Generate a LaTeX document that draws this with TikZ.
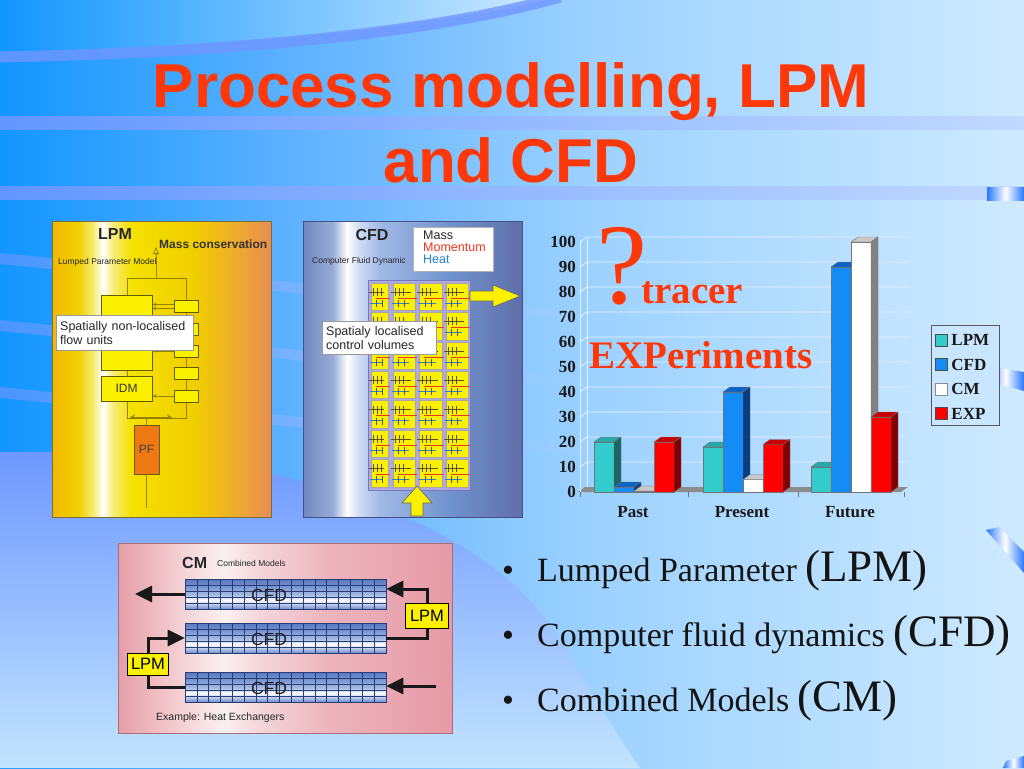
\documentclass[tikz,border=0pt]{standalone}
\usepackage{fontspec}
\setmainfont{Liberation Serif}
\setsansfont{Liberation Sans}
\usetikzlibrary{arrows.meta,calc}

\definecolor{bgL}{RGB}{18,150,255}
\definecolor{bgA}{RGB}{95,178,255}
\definecolor{bgB}{RGB}{158,210,255}
\definecolor{bgR}{RGB}{206,234,255}
\definecolor{stripe}{RGB}{112,150,255}
\definecolor{stripeR}{RGB}{190,215,255}
\definecolor{lowT}{RGB}{110,152,255}
\definecolor{lowB}{RGB}{194,228,255}
\definecolor{swR}{RGB}{205,233,255}
\definecolor{ttl}{RGB}{255,56,10}
% LPM panel
\definecolor{lp1}{RGB}{242,184,0}
\definecolor{lp2}{RGB}{240,208,0}
\definecolor{lp3}{RGB}{248,236,120}
\definecolor{lp4}{RGB}{245,225,0}
\definecolor{lp5}{RGB}{240,205,0}
\definecolor{lp6}{RGB}{238,172,45}
\definecolor{lp7}{RGB}{232,140,85}
\definecolor{lpbord}{RGB}{120,110,60}
\definecolor{lolive}{RGB}{150,130,0}
\definecolor{ldark}{RGB}{100,90,0}
\definecolor{lyel}{RGB}{250,240,0}
\definecolor{pforange}{RGB}{240,120,20}
% CFD panel
\definecolor{cf1}{RGB}{112,136,190}
\definecolor{cf2}{RGB}{152,172,216}
\definecolor{cf3}{RGB}{205,218,242}
\definecolor{cf4}{RGB}{160,185,230}
\definecolor{cf5}{RGB}{112,146,205}
\definecolor{cf6}{RGB}{95,110,170}
\definecolor{cfbord}{RGB}{70,80,130}
\definecolor{gridlav}{RGB}{176,168,224}
\definecolor{gridlavd}{RGB}{120,120,190}
\definecolor{momred}{RGB}{235,55,30}
\definecolor{heatblue}{RGB}{40,130,210}
\definecolor{tickd}{RGB}{90,80,40}
% CM panel
\definecolor{cm1}{RGB}{228,158,168}
\definecolor{cm2}{RGB}{238,184,190}
\definecolor{cm3}{RGB}{247,224,226}
\definecolor{cm4}{RGB}{250,240,240}
\definecolor{cm5}{RGB}{244,214,218}
\definecolor{cm6}{RGB}{236,180,188}
\definecolor{cm7}{RGB}{230,154,166}
\definecolor{cmbord}{RGB}{170,110,120}
\definecolor{tb1}{RGB}{110,140,200}
\definecolor{tb2}{RGB}{190,205,235}
\definecolor{tb3}{RGB}{170,190,228}
\definecolor{tb4}{RGB}{120,150,210}
\definecolor{tb5}{RGB}{88,118,188}
\definecolor{tubeline}{RGB}{40,60,120}
% chart
\definecolor{lpmF}{RGB}{51,204,204}
\definecolor{lpmT}{RGB}{40,168,168}
\definecolor{lpmS}{RGB}{30,100,100}
\definecolor{cfdF}{RGB}{20,140,245}
\definecolor{cfdT}{RGB}{10,100,200}
\definecolor{cfdS}{RGB}{10,60,130}
\definecolor{cmT}{RGB}{200,200,200}
\definecolor{cmS}{RGB}{130,130,130}
\definecolor{expF}{RGB}{255,0,0}
\definecolor{expT}{RGB}{200,0,0}
\definecolor{expS}{RGB}{130,0,0}
\definecolor{gridw}{RGB}{228,242,255}
\definecolor{legbg}{RGB}{200,230,255}
\definecolor{decoB}{RGB}{40,120,255}

\pgfdeclarehorizontalshading{bgshade}{100bp}{color(0bp)=(bgL); color(25bp)=(bgL); color(39.6bp)=(bgA); color(54.3bp)=(bgB); color(75bp)=(bgR); color(100bp)=(bgR)}
\pgfdeclarehorizontalshading{lpmshade}{100bp}{color(0bp)=(lp1); color(25bp)=(lp1); color(31bp)=(lp2); color(34.5bp)=(lp3); color(36.6bp)=(white); color(39bp)=(lp3); color(43bp)=(lp4); color(58bp)=(lp5); color(67bp)=(lp6); color(75bp)=(lp7); color(100bp)=(lp7)}
\pgfdeclarehorizontalshading{cfdshade}{100bp}{color(0bp)=(cf1); color(25bp)=(cf1); color(31.8bp)=(cf2); color(35bp)=(white); color(38bp)=(cf3); color(42.6bp)=(cf4); color(58.6bp)=(cf5); color(75bp)=(cf6); color(100bp)=(cf6)}
\pgfdeclarehorizontalshading{cmshade}{100bp}{color(0bp)=(cm1); color(25bp)=(cm1); color(29.8bp)=(cm2); color(37.3bp)=(cm3); color(41bp)=(cm4); color(46.2bp)=(cm5); color(56.7bp)=(cm6); color(75bp)=(cm7); color(100bp)=(cm7)}
\pgfdeclareverticalshading{tubeshade}{100bp}{color(0bp)=(tb1); color(25bp)=(tb1); color(33bp)=(tb2); color(40bp)=(white); color(48bp)=(tb3); color(62bp)=(tb4); color(75bp)=(tb5); color(100bp)=(tb5)}
\pgfdeclarehorizontalshading{decoshade}{100bp}{color(0bp)=(decoB); color(25bp)=(decoB); color(50bp)=(white); color(75bp)=(decoB); color(100bp)=(decoB)}

\newcommand{\chartbar}[5]{%
  \pgfmathsetmacro{\bt}{492-2.5*#2}%
  \path[fill=#3, draw=black!55, line width=0.4pt] (#1,492) rectangle (#1+20,\bt);
  \path[fill=#4, draw=black!55, line width=0.4pt] (#1,\bt) -- (#1+7,\bt-5) -- (#1+27,\bt-5) -- (#1+20,\bt) -- cycle;
  \path[fill=#5, draw=black!55, line width=0.4pt] (#1+20,492) -- (#1+20,\bt) -- (#1+27,\bt-5) -- (#1+27,487) -- cycle;
}

\tikzset{
  ptitle/.style={font=\sffamily\bfseries\fontsize{16}{18}\selectfont, text=black!85, inner sep=0pt},
  psub/.style={font=\sffamily\fontsize{8.5}{10}\selectfont, text=black!85, inner sep=0pt},
  mcons/.style={font=\sffamily\bfseries\fontsize{12}{14}\selectfont, text=black!80, inner sep=0pt},
  lline/.style={draw=lolive, line width=0.8pt},
  larr/.style={draw=lolive, line width=0.8pt, -{Stealth[length=4pt,width=3.5pt]}},
  lbox/.style={draw=ldark, fill=lyel, line width=0.8pt, inner sep=0pt, font=\sffamily\fontsize{12}{14}\selectfont, text=black!80},
  pfbox/.style={draw=ldark, fill=pforange, line width=0.8pt, inner sep=0pt, minimum width=25pt, minimum height=49pt, font=\sffamily\fontsize{12}{14}\selectfont, text=black!75},
  wlabel/.style={draw=black!40, fill=white, inner xsep=4pt, inner ysep=0pt, align=left, font=\sffamily\fontsize{12.5}{14}\selectfont, text=black!85},
  cell/.style={fill=lyel, draw=black!35, line width=0.4pt},
  tkd/.style={draw=tickd, line width=0.6pt},
  tkr/.style={draw=momred, line width=0.6pt},
  tkb/.style={draw=heatblue, line width=0.6pt},
  blockarrow/.style={fill=lyel, draw=black!60, line width=0.6pt},
  tube/.style={shade, shading=tubeshade, draw=tubeline, line width=0.6pt, minimum width=201pt, minimum height=30pt, inner sep=0pt},
  tubegrid/.style={draw=tubeline, line width=0.45pt},
  tubetext/.style={font=\sffamily\fontsize{17.5}{18}\selectfont, text=black!88, inner sep=0pt},
  lpmy/.style={draw=black, fill=lyel, line width=1pt, inner sep=0pt, font=\sffamily\fontsize{16.5}{18}\selectfont},
  cmline/.style={draw=black!90, line width=3pt},
  cmarrow/.style={draw=black!90, line width=3pt, -{Triangle[length=17pt,width=16pt]}},
  gridln/.style={draw=gridw, line width=0.8pt},
  ylab/.style={font=\bfseries\fontsize{17}{17}\selectfont, inner sep=0pt, text=black!90},
  catlab/.style={font=\bfseries\fontsize{17}{17}\selectfont, inner sep=0pt, text=black!90},
  redtext/.style={text=ttl, inner sep=0pt},
  legsq/.style={draw=black!70, line width=0.5pt, minimum width=12pt, minimum height=12pt, inner sep=0pt},
  legtx/.style={font=\bfseries\fontsize{17}{17}\selectfont, inner sep=0pt, text=black!90},
  bullet/.style={font=\fontsize{34}{40}\selectfont, inner sep=0pt, text=black!92},
  ttlstyle/.style={font=\sffamily\bfseries\fontsize{62}{70}\selectfont, text=ttl, inner sep=0pt},
  deco/.style={shading=decoshade}
}

\begin{document}
\begin{tikzpicture}[x=1pt,y=-1pt]
\useasboundingbox (0,0) rectangle (1024,768);
\clip (0,0) rectangle (1024,768);

% ---------- background ----------
\shade[shading=bgshade] (0,0) rectangle (1024,768);
\shade[left color=bgL, right color=swR] (0,0) -- (545,0) .. controls (420,30) and (220,48) .. (0,52) -- cycle;
\draw[stripe, line width=11pt, opacity=0.8] (0,57) .. controls (220,53) and (430,34) .. (560,-3);
\foreach \sy in {116,186} {
  \shade[left color=stripe, right color=stripeR, opacity=0.85] (0,\sy) rectangle (1024,\sy+13);
}
\foreach \sy in {253,320,387} {
  \shade[left color=stripe, right color=bgB, opacity=0.6] (0,\sy) -- (600,\sy+60) -- (600,\sy+70) -- (0,\sy+11) -- cycle;
}
\shade[top color=lowT, bottom color=lowB] (0,452) -- (150,452) .. controls (350,478) and (500,540) .. (560,640) .. controls (590,690) and (620,740) .. (640,768) -- (0,768) -- cycle;

% right decorations
\shade[deco] (987,187) rectangle (1024,200);
\shade[deco] (987,366) -- (1024,372) -- (1024,391) -- (987,381) -- cycle;
\shade[deco] (986,530) -- (999,527) -- (1024,552) -- (1024,573) -- cycle;
\shade[deco] (1006,761) -- (1024,756) -- (1024,768) -- (1003,768) -- cycle;

% ---------- title ----------
\node[ttlstyle, anchor=base] (title1) at (511,107) {Process modelling, LPM};
\node[ttlstyle, anchor=base] (title2) at (511,182) {and CFD};

% ---------- LPM panel ----------
\shade[shading=lpmshade, draw=lpbord, line width=0.6pt] (52,221) rectangle (271,517);
\node[ptitle] (lpmt) at (115,234) {LPM};
\node[psub, anchor=west] (lpms) at (58,262) {Lumped Parameter Model};
\node[mcons, anchor=west] (mcons) at (159,244) {Mass conservation};
\draw[lline] (127,278) rectangle (186,418);
\coordinate (upA) at (156,278);
\coordinate (upB) at (156,247);
\draw[lline, -{Triangle[open, length=7pt, width=6pt]}] (upA) -- (upB);
\node[lbox, minimum width=51pt, minimum height=75pt] (bb) at (126.5,332.5) {};
\node[lbox, minimum width=51pt, minimum height=25pt] (idm) at (126.5,388.5) {IDM};
\foreach \i/\yy in {1/306.5,2/329,3/351,4/373.5,5/396}
  \node[lbox, minimum width=24pt, minimum height=12pt] (s\i) at (186,\yy) {};
\draw[larr] ($(s1.west)+(0,-2)$) -- ($(s1.west -| bb.east)+(0,-2)$);
\draw[larr] ($(s1.west)+(0,2)$) -- ($(s1.west -| bb.east)+(0,2)$);
\draw[larr] (s3.west) -- (s3.west -| bb.east);
\draw[larr] (s5.west) -- (s5.west -| idm.east);
\node[pfbox] (pf) at (146.5,449.5) {PF};
\coordinate (pfbot) at (146.5,508);
\coordinate (pfL) at (130,417);
\coordinate (pfR) at (172,417);
\draw[lline] (pf.north) -- ++(0,-7);
\draw[lline] (pf.south) -- (pfbot);
\draw[lline, {Stealth[length=5pt,width=5pt]}-{Stealth[length=5pt,width=5pt]}] (pfL) -- (pfR);
\node[wlabel, anchor=north west, text width=129pt, minimum height=35pt] (lab1) at (56,315) {Spatially non-localised\\flow units};

% ---------- CFD panel ----------
\shade[shading=cfdshade, draw=cfbord, line width=0.6pt] (303,221) rectangle (522,517);
\node[ptitle] (cfdt) at (372,235) {CFD};
\node[psub, anchor=west] (cfds) at (312,261) {Computer Fluid Dynamic};
\node[draw=black!30, fill=white, minimum width=80pt, minimum height=44pt, inner sep=0pt, anchor=north west] (mmh) at (413,227) {};
\node[anchor=north west, align=left, inner sep=0pt, font=\sffamily\fontsize{12.5}{12}\selectfont, text=black!85] (mmht) at (423,231) {Mass\\\textcolor{momred}{Momentum}\\\textcolor{heatblue}{Heat}};
\path[fill=gridlav, draw=gridlavd, line width=0.6pt] (368,280) rectangle (470,490);
\foreach \cx/\cw in {370.7/17.6, 392.7/22.3, 419.3/22.4, 445.7/22.6} {
  \foreach \r in {0,...,6} {
    \pgfmathsetmacro{\ty}{283+\r*29.4}
    \path[cell] (\cx,\ty) rectangle ++(\cw,27.4);
    \draw[tkd] (\cx-2,\ty+9) -- ++(\cw-2,0);
    \foreach \k in {3,7,11} { \draw[tkd] (\cx+\k,\ty+5) -- ++(0,8); }
    \draw[tkr] (\cx+5,\ty+15) -- ++(\cw-3,0);
    \draw[tkb] (\cx-1,\ty+20) -- ++(\cw-5,0);
    \foreach \k in {6,12} { \draw[tkd] (\cx+\k,\ty+17) -- ++(0,7); }
  }
}
\path[blockarrow] (470,291) -- (493,291) -- (493,285) -- (520,296) -- (493,307) -- (493,301) -- (470,301) -- cycle;
\path[blockarrow] (411,516) -- (411,503) -- (402,503) -- (417,486) -- (432,503) -- (423,503) -- (423,516) -- cycle;
\node[wlabel, anchor=north west, text width=106pt, minimum height=33pt] (lab2) at (322,321) {Spatialy localised\\control volumes};

% ---------- chart ----------
\path[fill=black!45] (578,492) -- (901,492) -- (908,487) -- (585,487) -- cycle;
\foreach \v in {10,20,...,100} {
  \draw[gridln] (580,{492-2.5*\v}) -- (587,{487-2.5*\v}) -- (908,{487-2.5*\v});
}
\draw[gridln] (587,487) -- (587,237);
\draw[gridln] (580,492) -- (580,242);
\foreach \tx in {580,688,798,904} { \draw[black!55, line width=0.6pt] (\tx,492) -- (\tx,497); }
\foreach \v in {0,10,...,100} {
  \node[ylab, anchor=east] at (576,{492-2.5*\v}) {\v};
}
\chartbar{594}{20}{lpmF}{lpmT}{lpmS}
\chartbar{614}{2}{cfdF}{cfdT}{cfdS}
\chartbar{634}{0.4}{white}{cmT}{cmS}
\chartbar{654}{20}{expF}{expT}{expS}
\chartbar{703}{18}{lpmF}{lpmT}{lpmS}
\chartbar{723}{40}{cfdF}{cfdT}{cfdS}
\chartbar{743}{5}{white}{cmT}{cmS}
\chartbar{763}{19}{expF}{expT}{expS}
\chartbar{811}{10}{lpmF}{lpmT}{lpmS}
\chartbar{831}{90}{cfdF}{cfdT}{cfdS}
\chartbar{851}{100}{white}{cmT}{cmS}
\chartbar{871}{30}{expF}{expT}{expS}
\node[catlab] (cpast) at (633,512) {Past};
\node[catlab] (cpres) at (742,512) {Present};
\node[catlab] (cfut) at (850,512) {Future};
\node[redtext, anchor=base west, font=\fontsize{115}{115}\selectfont] (qm) at (596,303) {?};
\node[redtext, anchor=base west, font=\bfseries\fontsize{39}{40}\selectfont] (tracer) at (641,303) {tracer};
\node[redtext, anchor=base west, font=\bfseries\fontsize{39}{40}\selectfont] (exper) at (589,368) {EXPeriments};

% legend
\node[draw=black!65, fill=legbg, line width=0.6pt, minimum width=68pt, minimum height=100pt, anchor=north west, inner sep=0pt] (leg) at (931,325) {};
\foreach \i/\c/\t/\bc in {0/lpmF/LPM/black!70, 1/cfdF/CFD/black!70, 2/white/CM/black!45, 3/expF/EXP/black!70} {
  \node[legsq, fill=\c, draw=\bc] (lq\i) at (941,{340+24.5*\i}) {};
  \node[legtx, anchor=west] (lt\i) at ($(lq\i.east)+(4,0)$) {\t};
}

% ---------- CM panel ----------
\shade[shading=cmshade, draw=cmbord, line width=0.6pt] (118,543) rectangle (452,733);
\node[ptitle, anchor=west] (cmt) at (182,563) {CM};
\node[psub, anchor=west] (cms) at (217,563) {Combined Models};
\foreach \i/\ty in {1/579, 2/623, 3/672} {
  \node[tube] (t\i) at (285.5,\ty+15) {};
  \foreach \gx in {1,...,16} { \draw[tubegrid] (185+\gx*11.8,\ty) -- ++(0,30); }
  \foreach \gy in {6,12,18,24} { \draw[tubegrid] (185,\ty+\gy) -- ++(201,0); }
  \node[tubetext] (tt\i) at (269,\ty+16) {CFD};
}
\node[lpmy, minimum width=43pt, minimum height=25pt] (l1) at (427,615.5) {LPM};
\node[lpmy, minimum width=41pt, minimum height=22pt] (l2) at (148,664) {LPM};
\coordinate (outL) at (135,594);
\coordinate (inR) at (436,686);
\draw[cmarrow] (t1.west) -- (outL);
\draw[cmline] (t2.east) -| (l1.south);
\draw[cmarrow] (l1.north) |- ($(t1.east)+(0,-5)$);
\draw[cmline] (t3.west) -| (l2.south);
\draw[cmarrow] (l2.north) |- (t2.west);
\draw[cmarrow] (inR) -- (inR -| t3.east);
\node[psub, anchor=west, font=\sffamily\fontsize{10.5}{12}\selectfont] (cmex) at (156,718) {Example: Heat Exchangers};

% ---------- bullets ----------
\node[bullet, anchor=base] (d1) at (508,581) {•};
\node[bullet, anchor=base west] (b1) at (537,581) {Lumped Parameter \fontsize{45}{50}\selectfont(LPM)};
\node[bullet, anchor=base] (d2) at (508,646) {•};
\node[bullet, anchor=base west] (b2) at (537,646) {Computer fluid dynamics \fontsize{45}{50}\selectfont(CFD)};
\node[bullet, anchor=base] (d3) at (508,711) {•};
\node[bullet, anchor=base west] (b3) at (537,711) {Combined Models \fontsize{45}{50}\selectfont(CM)};
\end{tikzpicture}
\end{document}
